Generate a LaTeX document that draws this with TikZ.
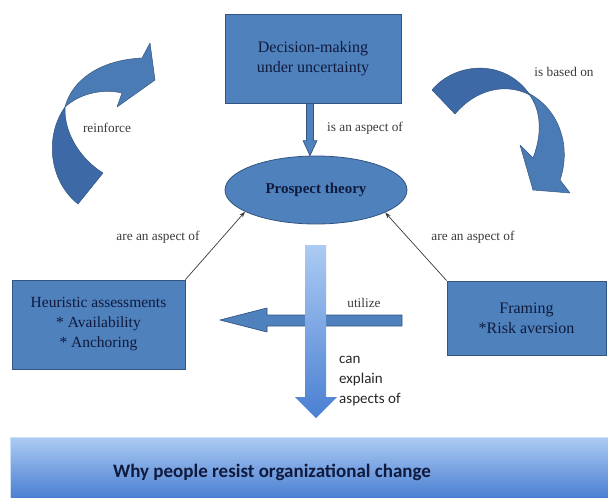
\documentclass[tikz,border=0pt]{standalone}
\usepackage{fontspec}
\setmainfont{Liberation Serif}
\newfontfamily\timesfont{Liberation Serif}
\newfontfamily\calibri{Carlito}
\usetikzlibrary{arrows.meta,calc,shapes.geometric}

\definecolor{boxblue}{HTML}{4F81BD}
\definecolor{boxedge}{HTML}{34557F}
\definecolor{darkribbon}{HTML}{3D6AA7}
\definecolor{navytext}{HTML}{0F1A3D}
\definecolor{labelgray}{HTML}{3A3A3A}
\definecolor{shadetop}{HTML}{ACCBF3}
\definecolor{shadebottom}{HTML}{4A7FD2}

\begin{document}
\begin{tikzpicture}[x=1pt, y=-1pt,
  conceptbox/.style={rectangle, draw=boxedge, fill=boxblue, line width=0.8pt, align=center, text=navytext, font=\timesfont\fontsize{16}{20}\selectfont, inner sep=0pt},
  theorynode/.style={ellipse, draw=boxedge, fill=boxblue, line width=0.8pt, minimum width=182pt, minimum height=68pt, inner sep=0pt, text=navytext, font=\timesfont\bfseries\fontsize{15}{17}\selectfont},
  relation/.style={text=labelgray, font=\timesfont\fontsize{13.3}{15}\selectfont, inner sep=0pt},
  linkarrow/.style={-{Stealth[length=6pt, width=4pt]}, draw=labelgray, line width=0.7pt},
  blockarrow/.style={draw=boxedge, fill=boxblue, line width=0.7pt, line join=round},
  ribbonlight/.style={draw=boxedge, fill=boxblue!95!black, line width=0.5pt, line join=round},
  ribbondark/.style={draw=boxedge, fill=darkribbon, line width=0.5pt, line join=round}
]
\useasboundingbox (0,0) rectangle (608,498);

% Concepts
\node[conceptbox, minimum width=176pt, minimum height=89pt] (decision) at (313,58.5) {Decision-making\\under uncertainty};
\node[theorynode] (prospect) at (316,190) {Prospect theory};
\node[conceptbox, minimum width=173pt, minimum height=89pt, font=\timesfont\fontsize{15.5}{20}\selectfont] (heuristic) at (98.5,324.5) {Heuristic assessments\\* Availability\\* Anchoring};
\node[conceptbox, minimum width=159pt, minimum height=74pt] (framing) at (526.5,318) {Framing\\*Risk aversion};

% Bottom banner
\node[rectangle, draw=shadetop!60!white, top color=shadetop, bottom color=shadebottom, minimum width=598pt, minimum height=61pt, inner sep=0pt] (change) at (309,467.5) {};
\node[font=\calibri\bfseries\fontsize{19}{22}\selectfont, text=navytext, inner sep=0pt] (changetext) at ($(change.center)+(-37,5)$) {Why people resist organizational change};

% Small block arrow
\coordinate (sb) at ($(decision.south)+(-3,0)$);
\coordinate (st) at ($(decision.south |- prospect.north)+(-3,0)$);
\draw[blockarrow] ($(sb)+(-3.5,0)$) -- ($(st)+(-3.5,-15)$) -- ($(st)+(-7,-15)$) -- (st) -- ($(st)+(7,-15)$) -- ($(st)+(3.5,-15)$) -- ($(sb)+(3.5,0)$) -- cycle;

% Links to the theory
\draw[linkarrow] (heuristic.north east) -- (prospect.197);
\draw[linkarrow] (framing.north west) -- (prospect.-18);

% Curved arrow, left
\filldraw[ribbondark] (65,107) .. controls (45,135) and (48,180) .. (78,204) -- (103,173) .. controls (82,160) and (64,135) .. (65,107) -- cycle;
\filldraw[ribbonlight] (65,107) .. controls (72,80) and (100,60) .. (142,58) -- (150,43) -- (155,80) -- (117,107) -- (122,93) .. controls (100,88) and (78,95) .. (65,107) -- cycle;

% Curved arrow, right
\filldraw[ribbondark] (432,90) .. controls (455,62) and (505,58) .. (530,95) .. controls (505,82) and (475,90) .. (455,114) -- cycle;
\filldraw[ribbonlight] (528,93) .. controls (558,108) and (572,145) .. (560,180) -- (570,193) -- (533,190) -- (520,145) -- (533,158) .. controls (542,135) and (542,110) .. (528,93) -- cycle;

% utilize arrow
\draw[blockarrow] (402,315) -- (267,315) -- (267,308) -- (220,320) -- (267,332) -- (267,326) -- (402,326) -- cycle;

% Big shaded arrow
\shade[top color=shadetop, bottom color=shadebottom] (305,245) -- (326,245) -- (326,397) -- (337,397) -- (316,418) -- (295,397) -- (305,397) -- cycle;

% Labels
\node[relation] (aspectlbl) at (365,128) {is an aspect of};
\node[relation] (reinforcelbl) at (107,128) {reinforce};
\node[relation] (basedlbl) at (564,72) {is based on};
\node[relation] (leftaspectlbl) at (158,237) {are an aspect of};
\node[relation] (rightaspectlbl) at (473,237) {are an aspect of};
\node[relation] (utilizelbl) at (364,303) {utilize};
\node[font=\calibri\fontsize{15}{20}\selectfont, text=black!85, align=left, anchor=north west, inner sep=0pt] (explainlbl) at (339,356) {can\\explain\\aspects of};

\end{tikzpicture}
\end{document}
